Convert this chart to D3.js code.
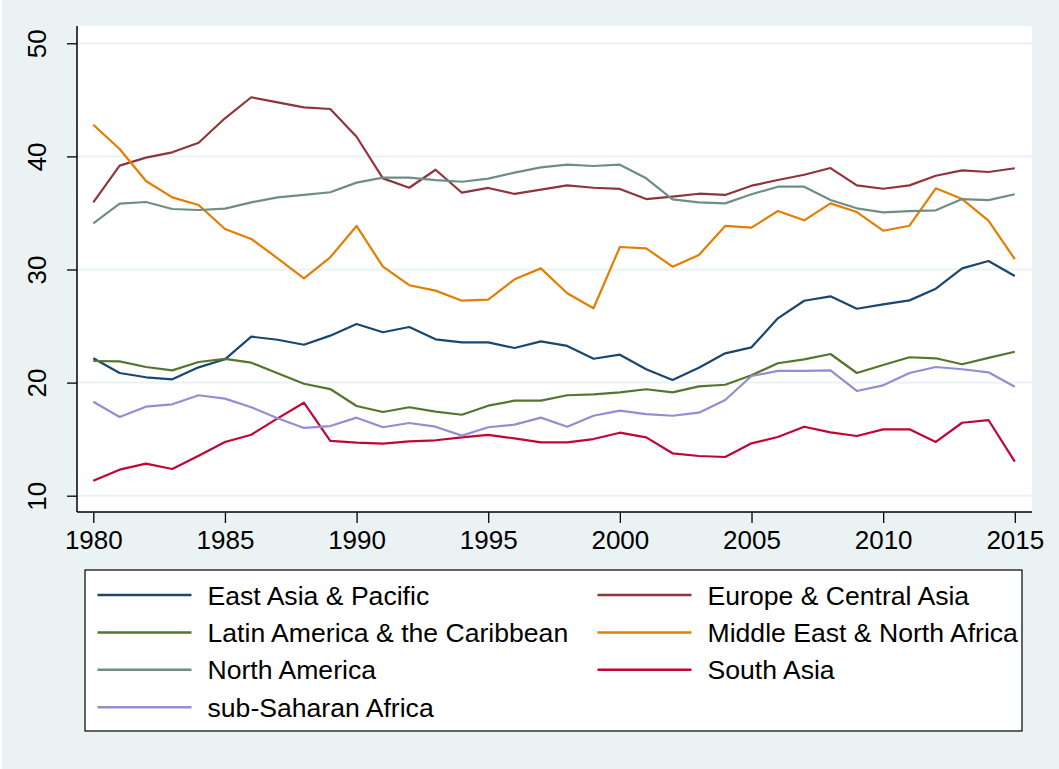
<!DOCTYPE html>
<html>
<head>
<meta charset="utf-8">
<script src="https://cdn.jsdelivr.net/npm/d3@7"></script>
<style>
  html, body { margin: 0; padding: 0; background: #ffffff; }
  svg { display: block; }
  text { font-family: "Liberation Sans", Arial, sans-serif; fill: #000; }
</style>
</head>
<body>
<svg id="chart" width="1059" height="769"></svg>
<script>
// ---- Data ----
const years = d3.range(1980, 2016);
const seriesNames = [
  "East Asia & Pacific", "Europe & Central Asia",
  "Latin America & the Caribbean", "Middle East & North Africa",
  "North America", "South Asia", "sub-Saharan Africa"
];
const eastAsiaPacific = [22.15,20.85,20.47,20.29,21.35,22.06,24.06,23.79,23.35,24.15,25.18,24.45,24.92,23.83,23.56,23.56,23.06,23.65,23.24,22.11,22.47,21.18,20.23,21.32,22.59,23.12,25.68,27.24,27.63,26.53,26.92,27.27,28.3,30.1,30.75,29.43];
const europeCentralAsia = [35.94,39.18,39.89,40.36,41.21,43.37,45.23,44.78,44.34,44.19,41.74,38.06,37.23,38.82,36.79,37.21,36.68,37.06,37.44,37.23,37.12,36.23,36.44,36.7,36.59,37.41,37.91,38.38,38.97,37.44,37.14,37.44,38.29,38.77,38.62,38.95];
const latinAmerica = [21.91,21.88,21.38,21.08,21.82,22.09,21.76,20.82,19.9,19.43,17.93,17.4,17.82,17.43,17.16,17.96,18.4,18.4,18.88,18.96,19.14,19.41,19.14,19.67,19.81,20.65,21.71,22.06,22.53,20.85,21.56,22.24,22.15,21.62,22.18,22.73];
const middleEast = [42.8,40.65,37.82,36.38,35.7,33.58,32.7,30.99,29.22,31.08,33.85,30.25,28.61,28.13,27.24,27.33,29.13,30.1,27.9,26.57,31.99,31.87,30.25,31.28,33.85,33.7,35.17,34.35,35.85,35.08,33.43,33.87,37.18,36.23,34.32,30.91];
const northAmerica = [34.08,35.82,35.97,35.35,35.26,35.38,35.94,36.38,36.59,36.83,37.68,38.12,38.12,37.91,37.76,38.03,38.56,39.03,39.27,39.15,39.27,38.06,36.2,35.94,35.85,36.65,37.32,37.32,36.14,35.41,35.05,35.17,35.23,36.23,36.14,36.65];
const southAsia = [11.33,12.3,12.83,12.36,13.54,14.75,15.39,16.84,18.22,14.84,14.69,14.6,14.81,14.9,15.16,15.37,15.07,14.72,14.72,15.01,15.57,15.16,13.75,13.51,13.42,14.63,15.19,16.1,15.6,15.28,15.87,15.87,14.75,16.45,16.69,13.01];
const subSaharan = [18.31,16.96,17.87,18.08,18.88,18.58,17.82,16.84,15.99,16.16,16.9,16.05,16.43,16.1,15.31,16.05,16.28,16.9,16.1,17.07,17.52,17.22,17.07,17.34,18.46,20.58,21.03,21.03,21.08,19.26,19.76,20.85,21.38,21.18,20.91,19.64];
const seriesValues = [eastAsiaPacific, europeCentralAsia, latinAmerica, middleEast, northAmerica, southAsia, subSaharan];
const seriesColors = ["#1a476f", "#90353b", "#55752f", "#e37e00", "#6e8e84", "#c10534", "#938dd2"];
const xTicks = [1980, 1985, 1990, 1995, 2000, 2005, 2010, 2015];
const yTicks = [10, 20, 30, 40, 50];

// ---- Layout ----
const W = 1059, H = 769;
const plot = { left: 77, right: 1032, top: 26, bottom: 512 };
const svg = d3.select("#chart");

svg.append("rect").attr("x", 2).attr("y", 0).attr("width", W - 2).attr("height", H).attr("fill", "#eaf2f3");
svg.append("rect").attr("x", plot.left).attr("y", plot.top)
  .attr("width", plot.right - plot.left).attr("height", plot.bottom - plot.top).attr("fill", "#ffffff");

const x = d3.scaleLinear().domain([1980, 2015]).range([93.3, 1014.8]);
const y = d3.scaleLinear().domain([10, 50]).range([495.7, 43.3]);

// gridlines
svg.append("g").selectAll("line").data(yTicks).join("line")
  .attr("x1", plot.left).attr("x2", plot.right)
  .attr("y1", d => y(d)).attr("y2", d => y(d))
  .attr("stroke", "#eaf2f3").attr("stroke-width", 2);

// series
const line = d3.line().x((d, i) => x(years[i])).y(d => y(d));
svg.append("g").selectAll("path").data(seriesValues).join("path")
  .attr("d", d => line(d))
  .attr("fill", "none")
  .attr("stroke", (d, i) => seriesColors[i])
  .attr("stroke-width", 2.2)
  .attr("stroke-linejoin", "round");

// y axis
const yAxis = d3.axisLeft(y).tickValues(yTicks).tickSize(10).tickPadding(0).tickFormat(d3.format("d"));
const gy = svg.append("g").attr("transform", `translate(${plot.left},0)`).call(yAxis);
gy.select(".domain").remove();
gy.selectAll(".tick line").attr("stroke", "#000").attr("stroke-width", 1.3);
gy.selectAll(".tick text")
  .attr("font-size", 26).attr("text-anchor", "middle")
  .attr("x", 0).attr("dy", null)
  .attr("transform", "translate(-22,0) rotate(-90) translate(0,-9)")
  .attr("dominant-baseline", "auto");
gy.append("line").attr("x1", 0).attr("x2", 0).attr("y1", plot.top).attr("y2", plot.bottom)
  .attr("stroke", "#000").attr("stroke-width", 1.5);

// x axis
const xAxis = d3.axisBottom(x).tickValues(xTicks).tickSize(11).tickPadding(8).tickFormat(d3.format("d"));
const gx = svg.append("g").attr("transform", `translate(0,${plot.bottom})`).call(xAxis);
gx.select(".domain").remove();
gx.selectAll(".tick line").attr("stroke", "#000").attr("stroke-width", 1.3);
gx.selectAll(".tick text").attr("font-size", 26);
gx.append("line").attr("x1", plot.left).attr("x2", plot.right).attr("y1", 0).attr("y2", 0)
  .attr("stroke", "#000").attr("stroke-width", 1.5);

// legend
const leg = { left: 85, top: 570, right: 1022, bottom: 731 };
svg.append("rect").attr("x", leg.left).attr("y", leg.top)
  .attr("width", leg.right - leg.left).attr("height", leg.bottom - leg.top)
  .attr("fill", "#ffffff").attr("stroke", "#000").attr("stroke-width", 1.2);
const colX = [97.5, 597.5];
const rowY0 = 595, rowStep = 37.4;
const items = svg.append("g").selectAll("g").data(seriesNames).join("g")
  .attr("transform", (d, i) => `translate(${colX[i % 2]},${rowY0 + Math.floor(i / 2) * rowStep})`);
items.append("line").attr("x1", 0).attr("x2", 94).attr("y1", 0).attr("y2", 0)
  .attr("stroke", (d, i) => seriesColors[i]).attr("stroke-width", 2.5);
items.append("text").attr("x", 110).attr("y", 0).attr("dy", "0.36em")
  .attr("font-size", 26.6).text(d => d);
</script>
</body>
</html>
